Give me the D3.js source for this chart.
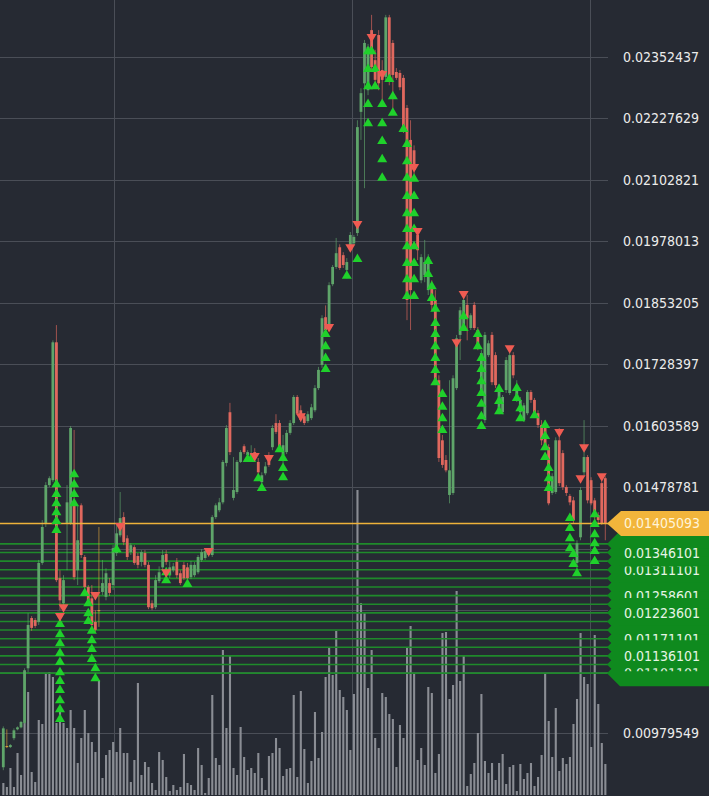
<!DOCTYPE html>
<html><head><meta charset="utf-8">
<script src="https://cdn.jsdelivr.net/npm/d3@7"></script>
<style>html,body{margin:0;padding:0;background:#262a33;overflow:hidden}</style>
</head><body>
<svg id="c" width="709" height="796"></svg>
<script>
// ---------- DATA ----------
const openP = [
0.00910,0.00953,0.00951,0.00969,0.00987,0.00991,0.01000,0.01111,0.01213,0.01209,
0.01205,0.01325,0.01404,0.01483,0.01493,0.01773,0.01294,0.01243,0.01406,0.01406,
0.01442,0.01310,0.01442,0.01337,0.01276,0.01253,0.01205,0.01229,0.01266,0.01256,
0.01284,0.01280,0.01345,0.01381,0.01418,0.01375,0.01347,0.01357,0.01339,0.01327,
0.01345,0.01321,0.01243,0.01235,0.01288,0.01316,0.01343,0.01300,0.01310,0.01327,
0.01304,0.01321,0.01316,0.01296,0.01300,0.01306,0.01331,0.01335,0.01341,0.01341,
0.01418,0.01432,0.01448,0.01528,0.01631,0.01457,0.01469,0.01530,0.01562,0.01544,
0.01542,0.01550,0.01530,0.01489,0.01507,0.01544,0.01560,0.01609,0.01609,0.01544,
0.01550,0.01589,0.01609,0.01662,0.01635,0.01623,0.01613,0.01619,0.01635,0.01680,
0.01727,0.01824,0.01804,0.01891,0.01926,0.01966,0.01950,0.01920,0.01964,0.01974,
0.01995,0.02241,0.02299,0.02285,0.02407,0.02346,0.02397,0.02326,0.02312,0.02433,
0.02381,0.02322,0.02320,0.02310,0.02249,0.02184,0.02163,0.01991,0.01899,0.01909,
0.01879,0.01889,0.01859,0.01696,0.01574,0.01534,0.01463,0.01467,0.01680,0.01788,
0.01802,0.01849,0.01802,0.01849,0.01798,0.01676,0.01615,0.01747,0.01788,0.01747,
0.01631,0.01631,0.01676,0.01670,0.01747,0.01656,0.01631,0.01615,0.01629,0.01672,
0.01656,0.01629,0.01605,0.01609,0.01560,0.01467,0.01469,0.01574,0.01548,0.01479,
0.01461,0.01452,0.01325,0.01377,0.01509,0.01540,0.01493,0.01452,0.01422,0.01487,
0.01497];
const closeP = [
0.00989,0.00953,0.00955,0.00985,0.00991,0.01002,0.01107,0.01199,0.01193,0.01197,
0.01325,0.01398,0.01483,0.01497,0.01773,0.01290,0.01249,0.01290,0.01448,0.01599,
0.01296,0.01371,0.01341,0.01276,0.01249,0.01199,0.01189,0.01229,0.01284,0.01304,
0.01264,0.01355,0.01385,0.01416,0.01367,0.01337,0.01361,0.01325,0.01321,0.01347,
0.01321,0.01235,0.01233,0.01290,0.01306,0.01341,0.01327,0.01316,0.01318,0.01300,
0.01284,0.01294,0.01294,0.01321,0.01321,0.01337,0.01347,0.01349,0.01351,0.01418,
0.01442,0.01448,0.01530,0.01599,0.01550,0.01473,0.01530,0.01550,0.01550,0.01550,
0.01548,0.01538,0.01509,0.01503,0.01521,0.01524,0.01599,0.01591,0.01560,0.01564,
0.01589,0.01609,0.01662,0.01629,0.01615,0.01609,0.01627,0.01641,0.01680,0.01717,
0.01822,0.01798,0.01889,0.01926,0.01954,0.01924,0.01930,0.01936,0.01991,0.01987,
0.02210,0.02279,0.02381,0.02373,0.02332,0.02306,0.02299,0.02306,0.02433,0.02306,
0.02316,0.02310,0.02291,0.02204,0.01859,0.01879,0.02123,0.01960,0.01946,0.01936,
0.01946,0.01849,0.01696,0.01538,0.01524,0.01513,0.01513,0.01700,0.01781,0.01838,
0.01859,0.01822,0.01828,0.01802,0.01763,0.01751,0.01788,0.01771,0.01692,0.01686,
0.01682,0.01662,0.01737,0.01747,0.01706,0.01686,0.01656,0.01645,0.01672,0.01656,
0.01629,0.01605,0.01574,0.01560,0.01446,0.01501,0.01574,0.01487,0.01479,0.01467,
0.01448,0.01412,0.01365,0.01473,0.01540,0.01452,0.01446,0.01418,0.01412,0.01406,
0.01405];
const highP = [
0.00993,0.00987,0.00957,0.00989,0.00993,0.01004,0.01111,0.01223,0.01217,0.01213,
0.01331,0.01412,0.01489,0.01501,0.01777,0.01808,0.01310,0.01300,0.01483,0.01603,
0.01595,0.01442,0.01446,0.01341,0.01280,0.01280,0.01229,0.01398,0.01331,0.01314,
0.01294,0.01361,0.01402,0.01469,0.01428,0.01381,0.01365,0.01361,0.01345,0.01351,
0.01351,0.01327,0.01249,0.01300,0.01318,0.01351,0.01351,0.01327,0.01325,0.01335,
0.01310,0.01327,0.01325,0.01329,0.01327,0.01341,0.01353,0.01355,0.01355,0.01422,
0.01446,0.01457,0.01534,0.01605,0.01650,0.01540,0.01534,0.01554,0.01566,0.01554,
0.01564,0.01558,0.01538,0.01509,0.01530,0.01550,0.01605,0.01627,0.01615,0.01585,
0.01595,0.01615,0.01666,0.01666,0.01645,0.01629,0.01633,0.01648,0.01686,0.01723,
0.01828,0.01848,0.01895,0.01930,0.01985,0.01972,0.01956,0.01944,0.01997,0.01991,
0.02224,0.02289,0.02387,0.02379,0.02438,0.02367,0.02407,0.02346,0.02438,0.02438,
0.02387,0.02330,0.02326,0.02316,0.02255,0.02224,0.02173,0.02005,0.01952,0.01981,
0.01952,0.01899,0.01879,0.01706,0.01585,0.01544,0.01696,0.01706,0.01788,0.01845,
0.01865,0.01869,0.01832,0.01855,0.01804,0.01757,0.01794,0.01777,0.01794,0.01753,
0.01688,0.01666,0.01743,0.01753,0.01753,0.01696,0.01662,0.01650,0.01676,0.01676,
0.01660,0.01635,0.01615,0.01615,0.01566,0.01507,0.01580,0.01599,0.01554,0.01483,
0.01465,0.01459,0.01371,0.01479,0.01615,0.01544,0.01499,0.01457,0.01428,0.01493,
0.01501];
const lowP = [
0.00904,0.00949,0.00949,0.00965,0.00985,0.00989,0.00998,0.01103,0.01187,0.01193,
0.01199,0.01321,0.01398,0.01479,0.01489,0.01286,0.01229,0.01239,0.01310,0.01402,
0.01290,0.01280,0.01335,0.01270,0.01243,0.01189,0.01185,0.01195,0.01260,0.01249,
0.01258,0.01270,0.01339,0.01377,0.01361,0.01331,0.01341,0.01321,0.01314,0.01318,
0.01316,0.01231,0.01229,0.01231,0.01284,0.01310,0.01321,0.01294,0.01306,0.01294,
0.01280,0.01290,0.01286,0.01292,0.01296,0.01302,0.01327,0.01331,0.01337,0.01337,
0.01414,0.01428,0.01444,0.01521,0.01544,0.01452,0.01465,0.01528,0.01546,0.01540,
0.01538,0.01534,0.01503,0.01485,0.01503,0.01520,0.01554,0.01587,0.01556,0.01513,
0.01546,0.01585,0.01605,0.01625,0.01611,0.01605,0.01609,0.01615,0.01631,0.01676,
0.01721,0.01792,0.01798,0.01887,0.01922,0.01920,0.01924,0.01903,0.01960,0.01970,
0.01989,0.02184,0.02086,0.02275,0.02326,0.02295,0.02285,0.02265,0.02306,0.02295,
0.02245,0.02306,0.02285,0.02198,0.01818,0.01798,0.02113,0.01940,0.01893,0.01895,
0.01869,0.01838,0.01686,0.01530,0.01518,0.01509,0.01446,0.01463,0.01676,0.01737,
0.01798,0.01777,0.01798,0.01798,0.01757,0.01666,0.01609,0.01743,0.01686,0.01680,
0.01627,0.01627,0.01670,0.01666,0.01700,0.01652,0.01627,0.01611,0.01625,0.01650,
0.01625,0.01599,0.01564,0.01554,0.01442,0.01463,0.01465,0.01481,0.01473,0.01461,
0.01442,0.01406,0.01310,0.01371,0.01503,0.01446,0.01442,0.01412,0.01402,0.01402,
0.01371];
const volume = [
12,8,27,8,42,20,72,103,23,13,
75,71,122,123,118,72,83,72,67,85,
67,32,57,85,62,53,43,115,17,40,
45,53,43,67,42,42,13,35,112,20,
33,28,12,5,43,35,18,4,10,5,
8,41,12,10,5,47,30,2,17,100,
37,30,145,67,140,27,20,68,38,25,
27,22,42,17,5,39,42,57,47,19,
26,27,100,18,104,46,12,34,83,37,
63,118,147,120,164,105,98,85,45,101,
305,192,182,107,145,57,47,102,98,81,
76,28,70,57,147,169,122,35,47,30,
108,102,22,41,162,163,96,110,204,114,
139,9,21,32,62,101,34,22,32,15,
32,41,11,28,30,4,31,16,22,32,
9,18,40,122,74,38,87,24,37,31,
38,71,96,162,118,111,48,160,91,52,
31];
const buys = [
[15,0.01487],[15,0.01467],[15,0.01448],[15,0.01430],[15,0.01412],[15,0.01394],
[16,0.01203],[16,0.01182],[16,0.01164],[16,0.01144],[16,0.01126],[16,0.01105],[16,0.01087],[16,0.01069],[16,0.01048],[16,0.01030],[16,0.01010],
[20,0.01507],[20,0.01487],[20,0.01467],[20,0.01448],
[23,0.01266],[24,0.01245],[24,0.01225],[24,0.01209],
[25,0.01189],[25,0.01170],[25,0.01152],[25,0.01132],[26,0.01113],[26,0.01093],
[32,0.01355],[46,0.01308],[46,0.01292],[52,0.01284],
[69,0.01538],[70,0.01538],[72,0.01499],[73,0.01479],[78,0.01558],[79,0.01540],[79,0.01520],[79,0.01501],
[91,0.01792],[91,0.01767],[91,0.01743],[91,0.01721],[97,0.01910],[100,0.01944],
[103,0.02366],[103,0.02330],[103,0.02295],[103,0.02259],[103,0.02220],[104,0.02366],[105,0.02330],[105,0.02295],
[107,0.02259],[107,0.02220],[107,0.02184],[107,0.02147],[107,0.02109],[109,0.02310],[110,0.02275],[110,0.02241],[113,0.02208],
[114,0.02178],[114,0.02143],[114,0.02109],[114,0.02072],[114,0.02037],[114,0.02005],[114,0.01970],[114,0.01936],[114,0.01903],[114,0.01869],
[116,0.02107],[116,0.02072],[116,0.02037],[116,0.02005],[116,0.01970],[116,0.01936],[116,0.01903],[116,0.01869],
[120,0.01940],[120,0.01914],[121,0.01889],[121,0.01865],
[122,0.01843],[122,0.01814],[122,0.01792],[122,0.01767],[122,0.01743],[122,0.01719],[122,0.01694],
[124,0.01670],[124,0.01644],[124,0.01621],[124,0.01597],
[130,0.01828],[130,0.01804],[134,0.01792],[134,0.01767],
[135,0.01743],[135,0.01721],[135,0.01696],[135,0.01672],[135,0.01650],[135,0.01625],[135,0.01605],
[140,0.01680],[140,0.01656],[140,0.01635],[145,0.01682],[145,0.01662],[146,0.01641],[146,0.01621],[150,0.01627],
[153,0.01607],[153,0.01585],[153,0.01562],[153,0.01542],[154,0.01520],[154,0.01499],[154,0.01479],
[160,0.01418],[160,0.01398],[160,0.01377],[160,0.01357],[161,0.01345],[161,0.01325],[162,0.01306],
[167,0.01426],[167,0.01406],[167,0.01385],[167,0.01367],[167,0.01351],[167,0.01331]
];
const sells = [[16,0.01215],[17,0.01233],[26,0.01258],[33,0.01398],[46,0.01304],[58,0.01347],[71,0.01540],[75,0.01536],[84,0.01621],[92,0.01802],[98,0.01964],[100,0.02011],[104,0.02391],[107,0.02316],[116,0.02127],[117,0.01997],[128,0.01771],[130,0.01869],[143,0.01759],[157,0.01589],[163,0.01495],[164,0.01558],[169,0.01499]];
const priceTicks = [0.02352437,0.02227629,0.02102821,0.01978013,0.01853205,0.01728397,0.01603589,0.01478781,0.01353973,0.01229165,0.01104357,0.00979549];
const timeGrid = [31.3, 98.5, 165.7];
const lastPrice = 0.01405093;
const levelPrices = [0.01363601,0.01346101,0.01328601,0.01311101,0.01293601,0.01276101,0.01258601,0.01241101,0.01223601,0.01206101,0.01188601,0.01171101,0.01153601,0.01136101,0.01118601,0.01101101];

// ---------- DRAW ----------
const W = 709, H = 796, plotRight = 608;
const svg = d3.select('#c');
const x = d3.scaleLinear().domain([0, openP.length - 1]).range([3.3, 605.3]);
const y = d3.scaleLinear().domain([0.00979549, 0.02352437]).range([733, 57]);
const vy = d3.scaleLinear().domain([0, 305]).range([795, 490]);
const fmt = d3.format('.8f');
const FONT = '"DejaVu Sans Condensed", "DejaVu Sans", sans-serif';

svg.append('rect').attr('width', W).attr('height', H).attr('fill', '#262a33');

const grid = svg.append('g').attr('stroke', '#4a4e57').attr('stroke-width', 1);
grid.selectAll('line.h').data(priceTicks).join('line')
  .attr('x1', 0).attr('x2', plotRight)
  .attr('y1', d => Math.round(y(d)) + 0.5).attr('y2', d => Math.round(y(d)) + 0.5);
grid.selectAll('line.v').data(timeGrid).join('line')
  .attr('y1', 0).attr('y2', H)
  .attr('x1', d => Math.round(x(d)) + 0.5).attr('x2', d => Math.round(x(d)) + 0.5);

// volume
svg.append('g').attr('fill', '#8a8d94').selectAll('rect').data(volume).join('rect')
  .attr('x', (d, i) => x(i) - 1).attr('width', 2.1)
  .attr('y', d => vy(d)).attr('height', d => vy(0) - vy(d));

// level lines
svg.append('g').attr('stroke', '#1f8a2b').attr('stroke-width', 1.6).selectAll('line').data(levelPrices).join('line')
  .attr('x1', 0).attr('x2', plotRight).attr('y1', d => y(d)).attr('y2', d => y(d));

// candles
const idx = d3.range(openP.length);
const colorOf = i => closeP[i] > openP[i] ? '#5fa56a' : (closeP[i] < openP[i] ? '#e0685e' : '#d9a23c');
const cg = svg.append('g');
cg.selectAll('line').data(idx).join('line')
  .attr('x1', i => x(i)).attr('x2', i => x(i))
  .attr('y1', i => y(highP[i])).attr('y2', i => y(lowP[i]))
  .attr('stroke', colorOf).attr('stroke-opacity', 0.65).attr('stroke-width', 1);
cg.selectAll('rect').data(idx).join('rect')
  .attr('x', i => x(i) - 1.4).attr('width', 2.8)
  .attr('y', i => y(Math.max(openP[i], closeP[i])))
  .attr('height', i => Math.max(1, Math.abs(y(openP[i]) - y(closeP[i]))))
  .attr('fill', colorOf);

// last price line
svg.append('line').attr('x1', 0).attr('x2', plotRight)
  .attr('y1', y(lastPrice)).attr('y2', y(lastPrice))
  .attr('stroke', '#eeb23a').attr('stroke-width', 1.5);

// markers
svg.append('g').attr('fill', '#1fd12b').selectAll('path').data(buys).join('path')
  .attr('d', d => { const cx = x(d[0]), cy = y(d[1]); return `M${cx},${cy-4.5}L${cx+5},${cy+4}L${cx-5},${cy+4}Z`; });
svg.append('g').attr('fill', '#ef5b52').selectAll('path').data(sells).join('path')
  .attr('d', d => { const cx = x(d[0]), cy = y(d[1]); return `M${cx},${cy+4.5}L${cx+5},${cy-4}L${cx-5},${cy-4}Z`; });

// axis labels (ticks hidden behind the level-label panel are not drawn)
const panelTop = y(levelPrices[0]) - 13, panelBottom = y(levelPrices[levelPrices.length - 1]) + 13;
svg.append('g').selectAll('text').data(priceTicks.filter(d => y(d) < panelTop - 6 || y(d) > panelBottom + 6)).join('text')
  .attr('x', 623).attr('y', d => y(d)).attr('dominant-baseline', 'central')
  .attr('fill', '#ececec').attr('font-family', FONT).attr('font-size', 14)
  .text(d => fmt(d));

// green level labels
const lg = svg.append('g');
lg.selectAll('path').data(levelPrices).join('path')
  .attr('d', d => { const c = y(d); return `M607,${c}L620,${c-13}L${W},${c-13}L${W},${c+13}L620,${c+13}Z`; })
  .attr('fill', '#0f8a1e');
const labelClip = {1:[-9,9], 3:[-3.3,9], 6:[-9,2.5], 8:[-9,9], 11:[-9,1.5], 13:[-9,9], 15:[-5,-2]};
const defs = svg.append('defs');
Object.keys(labelClip).forEach(k => {
  const c = y(levelPrices[k]), r = labelClip[k];
  defs.append('clipPath').attr('id', 'lc' + k).append('rect')
    .attr('x', 615).attr('width', 100).attr('y', c + r[0]).attr('height', r[1] - r[0]);
  lg.append('text').attr('x', 624).attr('y', c).attr('dominant-baseline', 'central')
    .attr('clip-path', `url(#lc${k})`)
    .attr('fill', '#e6f5e6').attr('font-family', FONT).attr('font-size', 14)
    .text(fmt(levelPrices[k]));
});

// last price label
const ly = y(lastPrice);
svg.append('path').attr('d', `M607,${ly}L621,${ly-12.5}L${W},${ly-12.5}L${W},${ly+12.5}L621,${ly+12.5}Z`)
  .attr('fill', '#f2b53b');
svg.append('text').attr('x', 624).attr('y', ly).attr('dominant-baseline', 'central')
  .attr('fill', '#fff4d8').attr('font-family', FONT).attr('font-size', 14)
  .text(fmt(lastPrice));
</script>
</body></html>
